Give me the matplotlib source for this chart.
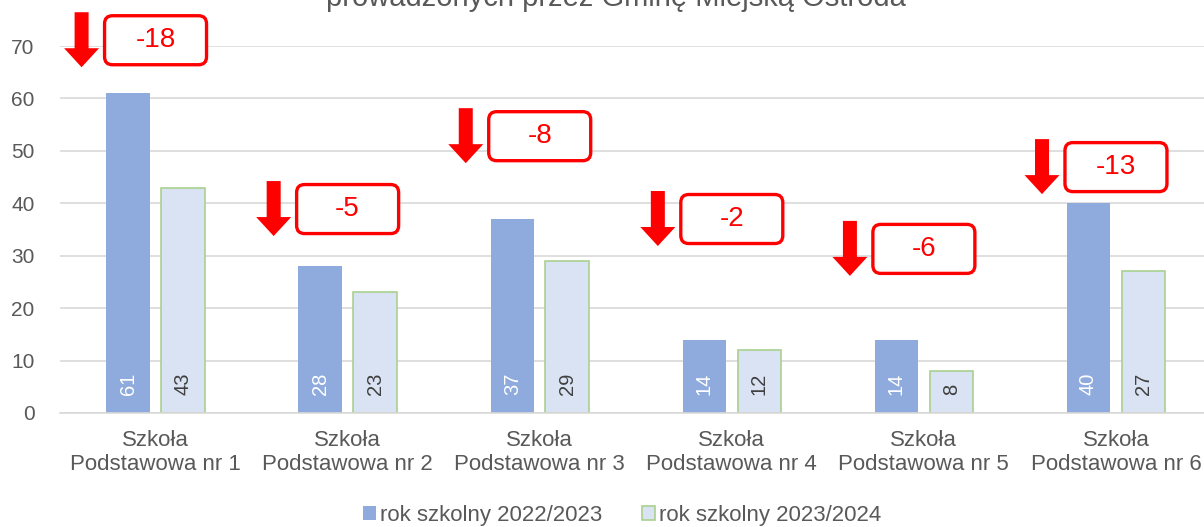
import matplotlib
matplotlib.use("Agg")
import matplotlib.pyplot as plt
from matplotlib.patches import FancyBboxPatch, FancyArrow
import numpy as np

plt.rcParams['font.family'] = ['Liberation Sans', 'DejaVu Sans']

categories = ["Szkoła\nPodstawowa nr 1", "Szkoła\nPodstawowa nr 2", "Szkoła\nPodstawowa nr 3",
              "Szkoła\nPodstawowa nr 4", "Szkoła\nPodstawowa nr 5", "Szkoła\nPodstawowa nr 6"]
series_names = ["rok szkolny 2022/2023", "rok szkolny 2023/2024"]
values_2022 = [61, 28, 37, 14, 14, 40]
values_2023 = [43, 23, 29, 12, 8, 27]
title_line = "prowadzonych przez Gminę Miejską Ostróda"
# vertical placement (data units) of each difference callout
callout_y = [71.1, 38.9, 52.8, 37.0, 31.3, 46.9]

W, H = 1204, 527
fig = plt.figure(figsize=(W / 100, H / 100), dpi=100)
ax_left, ax_right, ax_bottom, ax_top = 59.5, 1212, 114, 481
ax = fig.add_axes([ax_left / W, ax_bottom / H, (ax_right - ax_left) / W, (ax_top - ax_bottom) / H])

blue = "#8FAADC"
light = "#DAE3F3"
edge = "#A9D18E"
red = "#FF0000"
gray = "#595959"

x = np.arange(len(categories))
bw = 0.226
off = 0.143
b1 = ax.bar(x - off, values_2022, bw, color=blue, label=series_names[0], zorder=2)
b2 = ax.bar(x + off, values_2023, bw, color=light, edgecolor=edge, linewidth=1.2,
            label=series_names[1], zorder=2)

xlim = (-0.5, 5.5)
ylim = (0, 70)
ax.set_xlim(*xlim)
ax.set_ylim(*ylim)
ax.set_yticks(np.arange(0, 71, 10))
ax.yaxis.grid(True, color="#D9D9D9", linewidth=1.2, zorder=0)
ax.set_axisbelow(True)
for s in ["top", "right", "left"]:
    ax.spines[s].set_visible(False)
ax.spines["bottom"].set_color("#D9D9D9")
ax.spines["bottom"].set_linewidth(1.2)
ax.tick_params(axis="both", length=0, labelcolor=gray)
ax.tick_params(axis="y", pad=18, labelsize=15)
ax.tick_params(axis="x", pad=12.5, labelsize=16)
ax.set_xticks(x)
ax.set_xticklabels(categories, linespacing=1.18)

# value labels inside the base of bars
for xi, v in zip(x, values_2022):
    ax.annotate(str(v), (xi - off, 0), xytext=(0, 13), textcoords="offset points",
                rotation=90, ha="center", va="bottom", color="white", fontsize=14.5)
for xi, v in zip(x, values_2023):
    ax.annotate(str(v), (xi + off, 0), xytext=(0, 13), textcoords="offset points",
                rotation=90, ha="center", va="bottom", color="#404040", fontsize=14.5)

# pixel -> data scale
px_x = (xlim[1] - xlim[0]) / (ax_right - ax_left)
px_y = (ylim[1] - ylim[0]) / (ax_top - ax_bottom)
aspect = px_y / px_x

box_w = 102 * px_x
box_h = 49 * px_y
for xi, yc, v1, v2 in zip(x, callout_y, values_2022, values_2023):
    diff = v2 - v1
    bx = xi + 0.0
    patch = FancyBboxPatch((bx - box_w / 2, yc - box_h / 2), box_w, box_h,
                           boxstyle="round,pad=0,rounding_size=%f" % (8 * px_x),
                           mutation_aspect=aspect, facecolor="white", edgecolor=red,
                           linewidth=2.4, clip_on=False, zorder=5)
    ax.add_patch(patch)
    ax.text(bx, yc, str(diff), ha="center", va="center", color=red, fontsize=20,
            zorder=6, clip_on=False)
    # down arrow
    ax_c = xi - 0.385
    top = yc + 28 * px_y
    length = 55 * px_y
    arr = FancyArrow(ax_c, top, 0, -length, width=14 * px_x, head_width=35 * px_x,
                     head_length=19 * px_y, length_includes_head=True,
                     color=red, clip_on=False, zorder=5, linewidth=0)
    ax.add_patch(arr)

fig.text(616 / W, 1 - 6 / H, title_line, ha="center", va="baseline",
         fontsize=21, color=gray)

leg = fig.legend(handles=[b1, b2], labels=series_names, loc="center",
                 bbox_to_anchor=(622 / W, 1 - 515 / H), ncol=2, frameon=False,
                 fontsize=16, labelcolor=gray, handlelength=0.6, handleheight=0.6,
                 handletextpad=0.15, columnspacing=1.8)

fig.savefig("out.png", dpi=100)
